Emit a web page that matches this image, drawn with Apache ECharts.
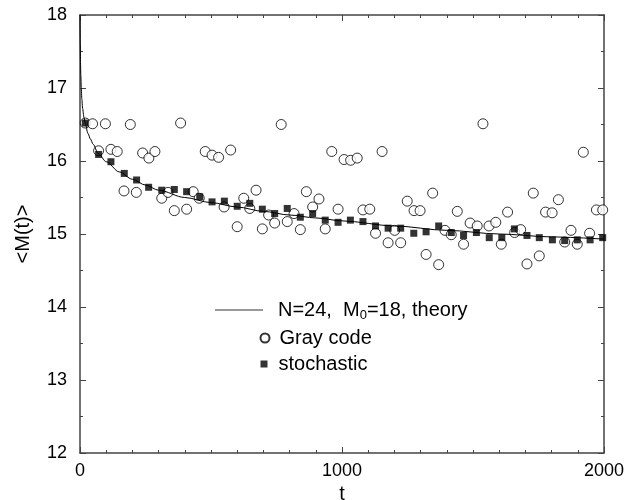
<!DOCTYPE html>
<html>
<head>
<meta charset="utf-8">
<script src="https://cdn.jsdelivr.net/npm/echarts@6/dist/echarts.min.js"></script>
<style>html,body{margin:0;padding:0;background:#fff}#c{width:628px;height:500px}</style>
</head>
<body>
<div id="c"></div>
<script>
const xTicks = [0, 1000, 2000];
const yTicks = [12, 13, 14, 15, 16, 17, 18];

const theoryT = [0, 1, 2, 3, 5, 7, 10, 15, 20, 30, 40, 50, 70, 100, 150, 200, 250, 300, 400, 500, 600, 700, 800, 900, 1000, 1200, 1400, 1600, 1800, 2000];
const theoryM = [18.0, 17.6, 17.35, 17.18, 17.0, 16.85, 16.72, 16.6, 16.52, 16.38, 16.3, 16.23, 16.1, 15.99, 15.85, 15.75, 15.67, 15.6, 15.5, 15.43, 15.37, 15.31, 15.26, 15.22, 15.18, 15.11, 15.05, 15.0, 14.96, 14.93];

const grayT = [20, 48, 71, 97, 118, 142, 168, 192, 215, 239, 263, 286, 312, 336, 360, 384, 407, 432, 455, 478, 504, 529, 550, 575, 600, 625, 648, 672, 696, 720, 743, 768, 791, 817, 841, 864, 888, 912, 936, 961, 985, 1008, 1033, 1058, 1080, 1106, 1128, 1153, 1176, 1201, 1224, 1249, 1275, 1298, 1321, 1346, 1369, 1393, 1417, 1440, 1464, 1489, 1516, 1538, 1561, 1587, 1608, 1632, 1659, 1682, 1706, 1730, 1753, 1777, 1802, 1826, 1850, 1874, 1898, 1921, 1945, 1971, 1995];
const grayM = [16.52, 16.51, 16.14, 16.51, 16.16, 16.13, 15.59, 16.50, 15.57, 16.11, 16.04, 16.13, 15.49, 15.57, 15.32, 16.52, 15.34, 15.58, 15.49, 16.13, 16.08, 16.05, 15.37, 16.15, 15.10, 15.49, 15.35, 15.60, 15.07, 15.26, 15.15, 16.50, 15.17, 15.28, 15.06, 15.58, 15.37, 15.48, 15.07, 16.13, 15.34, 16.02, 16.01, 16.04, 15.33, 15.34, 15.01, 16.13, 14.88, 15.05, 14.88, 15.45, 15.32, 15.32, 14.72, 15.56, 14.58, 15.05, 14.99, 15.31, 14.86, 15.15, 15.11, 16.51, 15.11, 15.16, 14.86, 15.30, 15.02, 15.06, 14.59, 15.56, 14.70, 15.30, 15.29, 15.47, 14.89, 15.05, 14.86, 16.12, 15.01, 15.33, 15.33];

const stochT = [20, 71, 118, 169, 216, 262, 312, 360, 407, 457, 504, 551, 600, 648, 696, 743, 791, 841, 888, 936, 985, 1032, 1080, 1128, 1176, 1224, 1274, 1321, 1369, 1417, 1464, 1513, 1562, 1610, 1658, 1706, 1753, 1803, 1850, 1898, 1947, 1995];
const stochM = [16.52, 16.09, 15.99, 15.83, 15.74, 15.64, 15.60, 15.61, 15.58, 15.51, 15.44, 15.45, 15.38, 15.42, 15.34, 15.28, 15.35, 15.23, 15.28, 15.19, 15.16, 15.19, 15.17, 15.11, 15.08, 15.08, 15.01, 15.03, 15.11, 15.02, 14.98, 15.02, 14.95, 14.95, 15.07, 14.98, 14.95, 14.92, 14.91, 14.92, 14.92, 14.95];

const FONT = 'Liberation Sans, Arial, sans-serif';
const zip = (a, b) => a.map((v, i) => [v, b[i]]);
const axisColor = '#444';

const chart = echarts.init(document.getElementById('c'), null, {renderer: 'canvas'});

function baseX(show, pos) {
  return {
    type: 'value', min: xTicks[0], max: xTicks[xTicks.length - 1], interval: xTicks[1] - xTicks[0],
    position: pos,
    axisLine: {show: true, onZero: false, lineStyle: {color: axisColor, width: 1.5}},
    axisTick: {show: true, inside: true, length: 6, lineStyle: {color: axisColor, width: 1}},
    minorTick: {show: true, splitNumber: 10, length: 3, lineStyle: {color: axisColor, width: 1}},
    axisLabel: {show: show, color: '#000', fontSize: 18, fontFamily: FONT, margin: 9, formatter: v => String(v)},
    splitLine: {show: false}
  };
}
function baseY(show, pos) {
  return {
    type: 'value', min: yTicks[0], max: yTicks[yTicks.length - 1], interval: yTicks[1] - yTicks[0],
    position: pos,
    axisLine: {show: true, onZero: false, lineStyle: {color: axisColor, width: 1.5}},
    axisTick: {show: true, inside: true, length: 6, lineStyle: {color: axisColor, width: 1}},
    minorTick: {show: true, splitNumber: 2, length: 3, lineStyle: {color: axisColor, width: 1}},
    axisLabel: {show: show, color: '#000', fontSize: 18, fontFamily: FONT, margin: 13, formatter: v => String(v)},
    splitLine: {show: false}
  };
}

const x0 = baseX(true, 'bottom');
x0.name = 't'; x0.nameLocation = 'middle'; x0.nameGap = 19;
x0.nameTextStyle = {fontSize: 20, fontFamily: FONT, color: '#000'};
const y0 = baseY(true, 'left');
y0.name = '<M(t)>'; y0.nameLocation = 'middle'; y0.nameGap = 47;
y0.nameTextStyle = {fontSize: 20, fontFamily: FONT, color: '#000'};

const legendText = {color: '#000', fontSize: 20, fontFamily: FONT};

chart.setOption({
  animation: false,
  backgroundColor: '#fff',
  grid: {left: 80, right: 24, top: 15, bottom: 47, containLabel: false, outerBoundsMode: 'none'},
  xAxis: [x0, baseX(false, 'top')],
  yAxis: [y0, baseY(false, 'right')],
  legend: [
    {
      data: [{name: 'theory', icon: 'rect', itemStyle: {color: '#333'}}], left: 215, top: 300, padding: 0,
      itemWidth: 48, itemHeight: 1.2,
      formatter: () => '{a|N=24,  M}{s|0}{a|=18, theory}',
      textStyle: {
        color: '#000', fontFamily: FONT, fontSize: 20, padding: [0, 0, 0, 10],
        rich: {
          a: {fontSize: 20, fontFamily: FONT, color: '#000'},
          s: {fontSize: 13, fontFamily: FONT, color: '#000', padding: [10, 0, 0, 0]}
        }
      }
    },
    {
      data: [{name: 'Gray code', icon: 'circle'}], left: 259.5, top: 328, padding: 0,
      itemWidth: 9, itemHeight: 9, textStyle: Object.assign({}, legendText, {padding: [0, 0, 0, 5]})
    },
    {
      data: [{name: 'stochastic', icon: 'rect'}], left: 260.5, top: 354, padding: 0,
      itemWidth: 7, itemHeight: 7, textStyle: Object.assign({}, legendText, {padding: [0, 0, 0, 6]})
    }
  ],
  series: [
    {
      name: 'Gray code', type: 'scatter', data: zip(grayT, grayM),
      symbol: 'circle', symbolSize: 10,
      itemStyle: {color: '#fff', borderColor: '#000', borderWidth: 1}
    },
    {
      name: 'theory', type: 'line', data: zip(theoryT, theoryM),
      symbol: 'none', showSymbol: false, smooth: 0.3, smoothMonotone: 'x',
      lineStyle: {color: '#000', width: 1},
      itemStyle: {color: '#000'}
    },
    {
      name: 'stochastic', type: 'scatter', data: zip(stochT, stochM),
      symbol: 'rect', symbolSize: 7,
      itemStyle: {color: '#000'}
    }
  ]
});
</script>
</body>
</html>
